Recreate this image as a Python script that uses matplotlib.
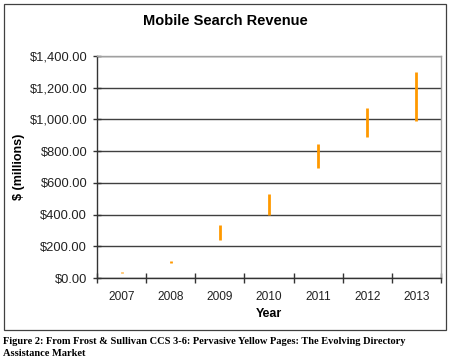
import matplotlib
matplotlib.use('Agg')
import matplotlib.pyplot as plt
from matplotlib.patches import Rectangle

# Data ($ millions)
years = ['2007', '2008', '2009', '2010', '2011', '2012', '2013']
low = [30, 95, 240, 400, 695, 890, 990]
high = [40, 105, 335, 530, 845, 1075, 1300]
yticks = [0, 200, 400, 600, 800, 1000, 1200, 1400]

plt.rcParams['font.family'] = ['Liberation Sans', 'DejaVu Sans']

fig = plt.figure(figsize=(4.5, 3.63), dpi=100)
ax = fig.add_axes([97 / 450, 1 - 278 / 363, 344 / 450, 222 / 363])

# outer chart border
fig.patches.append(Rectangle((4 / 450, 1 - 330 / 363), 442 / 450, 326 / 363,
                             transform=fig.transFigure, fill=False,
                             edgecolor='#404040', linewidth=0.9))

x = list(range(len(years)))
ax.vlines(x, low, high, color='#FF9900', linewidth=2, zorder=3)

ax.set_xlim(-0.5, len(years) - 0.5)
ax.set_ylim(0, 1400)
ax.set_yticks(yticks)
ax.set_yticklabels(['${:,.2f}'.format(v) for v in yticks], fontsize=9.3, color='#222222')

# ticks between categories, labels at category centres
ax.set_xticks([i - 0.5 for i in range(len(years) + 1)])
ax.set_xticklabels([])
ax.set_xticks(x, minor=True)
ax.set_xticklabels(years, minor=True, fontsize=8.6, color='#222222')
ax.tick_params(axis='x', which='major', direction='inout', length=7, width=1, color='#333333')
ax.tick_params(axis='x', which='minor', length=0, pad=9)
ax.tick_params(axis='y', direction='inout', length=6, width=1, color='#333333', pad=4)

ax.grid(axis='y', color='#404040', linewidth=1)
ax.set_axisbelow(True)
for s in ['top', 'right']:
    ax.spines[s].set_color('#A0A0A0')
    ax.spines[s].set_linewidth(1)
for s in ['left', 'bottom']:
    ax.spines[s].set_color('#333333')
    ax.spines[s].set_linewidth(1)

ax.set_xlabel('Year', fontsize=9, fontweight='bold', labelpad=4)
ax.set_ylabel('$ (millions)', fontsize=9, fontweight='bold')
ax.yaxis.set_label_coords((25 - 97) / 344, 0.5)

fig.text(225 / 450, 1 - 21 / 363, 'Mobile Search Revenue', ha='center', va='center',
         fontsize=10.5, fontweight='bold')

fig.text(3 / 450, 1 - 342 / 363,
         'Figure 2: From Frost & Sullivan CCS 3-6: Pervasive Yellow Pages: The Evolving Directory',
         ha='left', va='center', fontsize=7.5, fontweight='bold', family='Liberation Serif')
fig.text(3 / 450, 1 - 354 / 363, 'Assistance Market', ha='left', va='center',
         fontsize=7.5, fontweight='bold', family='Liberation Serif')

fig.savefig('out.png', dpi=100)
